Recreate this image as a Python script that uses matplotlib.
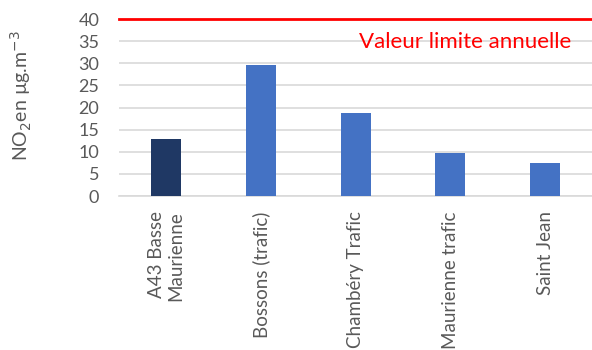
import matplotlib
matplotlib.use("Agg")
import matplotlib.pyplot as plt

categories = ["A43 Basse\nMaurienne", "Bossons (trafic)", "Chambéry Trafic", "Maurienne trafic", "Saint Jean"]
values = [12.9, 29.5, 18.8, 9.8, 7.4]
colors = ["#1f3864", "#4472c4", "#4472c4", "#4472c4", "#4472c4"]
limit_value = 40
limit_label = "Valeur limite annuelle"
yticks = [0, 5, 10, 15, 20, 25, 30, 35, 40]

plt.rcParams['font.family'] = ['Lato', 'DejaVu Sans']
fig = plt.figure(figsize=(5.92, 3.5), dpi=100)
ax = fig.add_axes([118.6/592, 1-196/350, (592.6-118.6)/592, (196-19)/350])

x = list(range(len(categories)))
ax.bar(x, values, width=0.317, color=colors, zorder=3)
ax.set_xlim(-0.5, len(categories)-0.5)
ax.set_ylim(0, 40)
ax.set_yticks(yticks)
ax.yaxis.grid(True, color="#d9d9d9", linewidth=1.2, zorder=0)
ax.set_axisbelow(True)
for s in ["top", "right", "left"]:
    ax.spines[s].set_visible(False)
ax.spines["bottom"].set_color("#d9d9d9")
ax.spines["bottom"].set_linewidth(1.2)
ax.tick_params(axis="both", length=0, colors="#595959", labelsize=13)
ax.tick_params(axis="y", pad=14)
ax.set_xticks(x)
ax.set_xticklabels(categories, rotation=90, fontsize=13.5, color="#595959", va="top", ha="center", multialignment="right")
ax.tick_params(axis="x", pad=11)

ax.axhline(limit_value, color="#ff0000", linewidth=2, zorder=4, clip_on=False)
ax.text(4.27, 34.9, limit_label, color="#ff0000", fontsize=16, ha="right", va="center")

fig.text(21/592, 1-96/350, "NO$_2$en µg.m$^{-3}$", rotation=90, fontsize=14, color="#595959", ha="center", va="center")

fig.savefig("out.png", dpi=100)
